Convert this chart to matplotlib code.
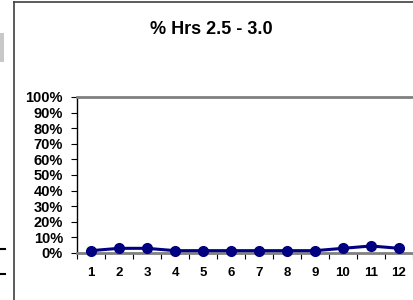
import matplotlib
matplotlib.use("Agg")
import matplotlib.pyplot as plt
from matplotlib.lines import Line2D
from matplotlib.patches import Rectangle
from matplotlib.ticker import FixedLocator, PercentFormatter

plt.rcParams["font.family"] = ["Liberation Sans", "DejaVu Sans"]

TITLE = "% Hrs 2.5 - 3.0"
months = [1, 2, 3, 4, 5, 6, 7, 8, 9, 10, 11, 12]
share = [0.015, 0.03, 0.03, 0.015, 0.015, 0.015, 0.015, 0.015, 0.015, 0.03, 0.045, 0.03]
y_ticks = [0.0, 0.1, 0.2, 0.3, 0.4, 0.5, 0.6, 0.7, 0.8, 0.9, 1.0]

W, H = 413, 300
fig = plt.figure(figsize=(W / 100, H / 100), dpi=100)
fig.patch.set_facecolor("white")

# chart frame (cropped excel chart area) and bits of the sheet on the left
fig.add_artist(Line2D([14 / W, 14 / W], [0, 1 - 2 / H], transform=fig.transFigure, color="#404040", lw=1.2))
fig.add_artist(Line2D([14 / W, 1], [1 - 2 / H, 1 - 2 / H], transform=fig.transFigure, color="#404040", lw=1.2))
fig.add_artist(Rectangle((0, 1 - 62 / H), 4 / W, 29 / H, transform=fig.transFigure, color="#c8c8c8", lw=0))
for yy in (249, 274):
    fig.add_artist(Line2D([0, 5 / W], [1 - yy / H, 1 - yy / H], transform=fig.transFigure, color="black", lw=1.5))

ax = fig.add_axes([77 / W, 47 / H, (W - 77) / W, 156 / H])
ax.plot(months, share, color="#000080", lw=2.2, marker="o", markersize=7, zorder=4, clip_on=False)

ax.set_xlim(0.5, 12.5)
ax.set_ylim(0, 1)
ax.set_xticks(months)
ax.set_xticklabels([str(m) for m in months], fontsize=9.5, fontweight="bold")
ax.xaxis.set_minor_locator(FixedLocator([m + 0.5 for m in range(0, 13)]))
ax.tick_params(axis="x", which="major", length=0, pad=10)
ax.tick_params(axis="x", which="minor", length=4, width=0.8, direction="out", color="black")
ax.set_yticks(y_ticks)
ax.yaxis.set_major_formatter(PercentFormatter(1.0, decimals=0))
ax.tick_params(axis="y", length=4, width=0.8, pad=6, labelsize=10.5)
for lbl in ax.get_yticklabels():
    lbl.set_fontweight("bold")

ax.spines["right"].set_visible(False)
ax.spines["top"].set_color("#808080")
ax.spines["top"].set_linewidth(2)
ax.spines["bottom"].set_color("#808080")
ax.spines["bottom"].set_linewidth(2)
ax.spines["left"].set_color("black")
ax.spines["left"].set_linewidth(1)

fig.text(211 / W, 1 - 30 / H, TITLE, ha="center", va="center", fontsize=13, fontweight="bold")

fig.savefig("out.png", dpi=100)
